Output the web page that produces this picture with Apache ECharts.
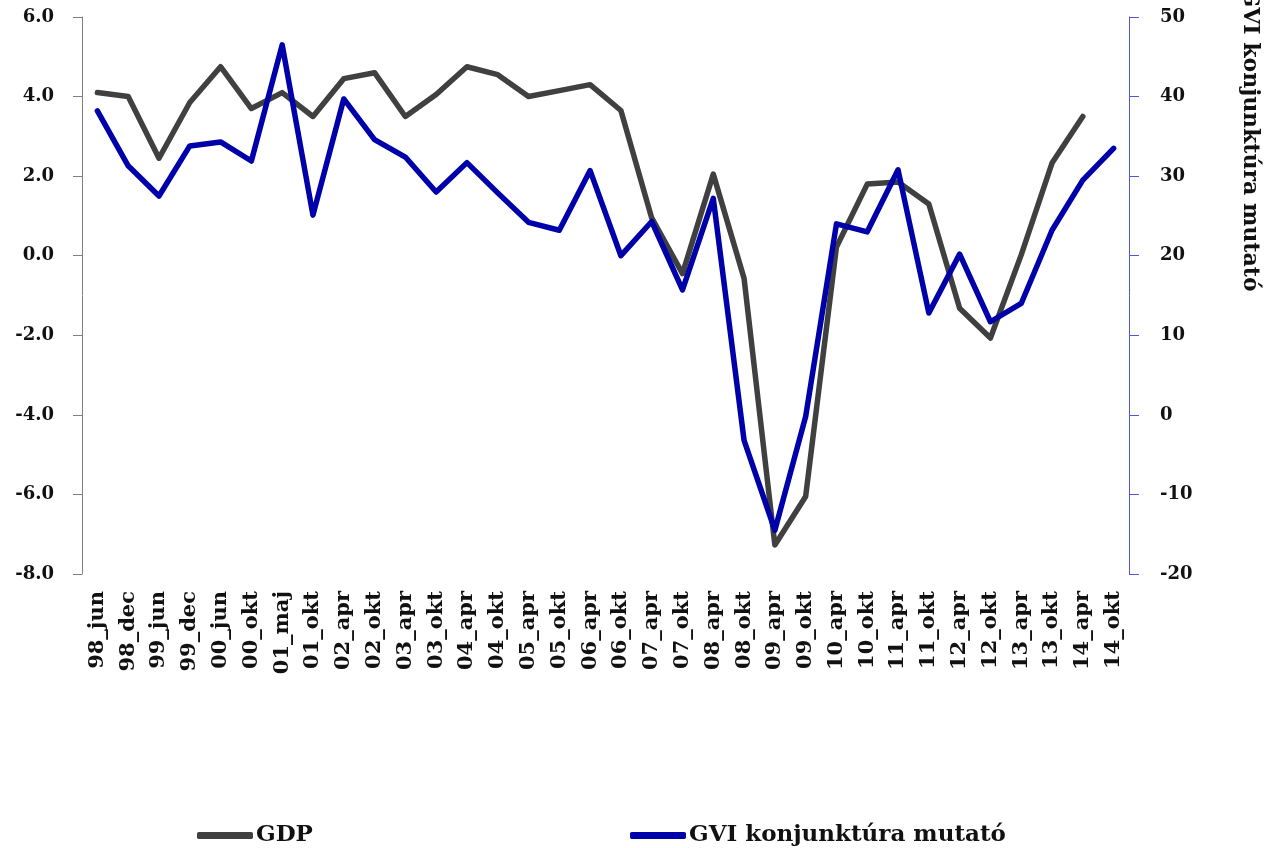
<!DOCTYPE html>
<html>
<head>
<meta charset="utf-8">
<script src="https://cdn.jsdelivr.net/npm/echarts@6/dist/echarts.min.js"></script>
<style>html,body{margin:0;padding:0;background:#fff;}#c{width:1272px;height:848px;}</style>
</head>
<body>
<div id="c"></div>
<script>
var categories = ['98_jun','98_dec','99_jun','99_dec','00_jun','00_okt','01_maj','01_okt','02_apr','02_okt','03_apr','03_okt','04_apr','04_okt','05_apr','05_okt','06_apr','06_okt','07_apr','07_okt','08_apr','08_okt','09_apr','09_okt','10_apr','10_okt','11_apr','11_okt','12_apr','12_okt','13_apr','13_okt','14_apr','14_okt'];
var gdp = [4.1,4.0,2.45,3.85,4.75,3.7,4.1,3.5,4.45,4.6,3.5,4.05,4.75,4.55,4.0,4.15,4.3,3.65,0.95,-0.45,2.05,-0.57,-7.27,-6.05,0.22,1.8,1.85,1.3,-1.32,-2.07,0.02,2.33,3.5,null];
var gvi = [38.2,31.3,27.5,33.8,34.3,31.9,46.5,25.1,39.7,34.6,32.4,28.0,31.7,27.9,24.2,23.2,30.7,20.0,24.3,15.7,27.2,-3.2,-14.5,-0.2,24.0,23.0,30.8,12.8,20.2,11.7,14.0,23.2,29.5,33.5];
var leftAxis = {min: -8, max: 6, interval: 2};
var rightAxis = {min: -20, max: 50, interval: 10};
var seriesNames = ['GDP', 'GVI konjunktúra mutató'];
var rightTitle = 'GVI konjunktúra mutató';

var FONT = 'DejaVu Serif';
var chart = echarts.init(document.getElementById('c'), null, {renderer: 'canvas'});
var labelStyle = {fontFamily: FONT, fontWeight: 'bold', color: '#111', fontSize: 18};
chart.setOption({
  animation: false,
  backgroundColor: '#fff',
  grid: {left: 82, right: 143, top: 17, bottom: 274, containLabel: false},
  xAxis: {
    type: 'category', data: categories, boundaryGap: true,
    axisLine: {show: false}, axisTick: {show: false},
    axisLabel: Object.assign({}, labelStyle, {rotate: 90, margin: 17, fontSize: 21, interval: 0})
  },
  yAxis: [
    {type: 'value', min: leftAxis.min, max: leftAxis.max, interval: leftAxis.interval, position: 'left',
     axisLine: {show: true, lineStyle: {color: '#808080', width: 1}},
     axisTick: {show: true, length: 9, lineStyle: {color: '#808080'}},
     splitLine: {show: false},
     axisLabel: Object.assign({}, labelStyle, {margin: 28, formatter: function(v){return v.toFixed(1);}})},
    {type: 'value', min: rightAxis.min, max: rightAxis.max, interval: rightAxis.interval, position: 'right',
     axisLine: {show: true, lineStyle: {color: '#5555cc', width: 1}},
     axisTick: {show: true, length: 10, lineStyle: {color: '#5555cc'}},
     splitLine: {show: false},
     axisLabel: Object.assign({}, labelStyle, {margin: 31})}
  ],
  legend: [
    {data: [seriesNames[0]], left: 192, top: 819, icon: 'roundRect', itemWidth: 56, itemHeight: 7, itemGap: 4,
     textStyle: {fontFamily: FONT, fontWeight: 'bold', fontSize: 23, color: '#111', padding: [0,0,0,-2]}},
    {data: [seriesNames[1]], left: 625, top: 819, icon: 'roundRect', itemWidth: 56, itemHeight: 7, itemGap: 4,
     textStyle: {fontFamily: FONT, fontWeight: 'bold', fontSize: 23, color: '#111', padding: [0,0,0,-2]}}
  ],
  graphic: [{
    type: 'text', x: 1250, y: 140, rotation: -Math.PI / 2,
    style: {text: rightTitle, fontFamily: FONT, fontWeight: 'bold', fontSize: 22, fill: '#111', align: 'center', verticalAlign: 'middle'}
  }],
  series: [
    {name: seriesNames[0], type: 'line', yAxisIndex: 0, data: gdp, symbol: 'none', connectNulls: false,
     lineStyle: {color: '#404040', width: 5.5, cap: 'round', join: 'round'}, itemStyle: {color: '#404040'}},
    {name: seriesNames[1], type: 'line', yAxisIndex: 1, data: gvi, symbol: 'none',
     lineStyle: {color: '#0000aa', width: 5.5, cap: 'round', join: 'round'}, itemStyle: {color: '#0000aa'}}
  ]
});
</script>
</body>
</html>
